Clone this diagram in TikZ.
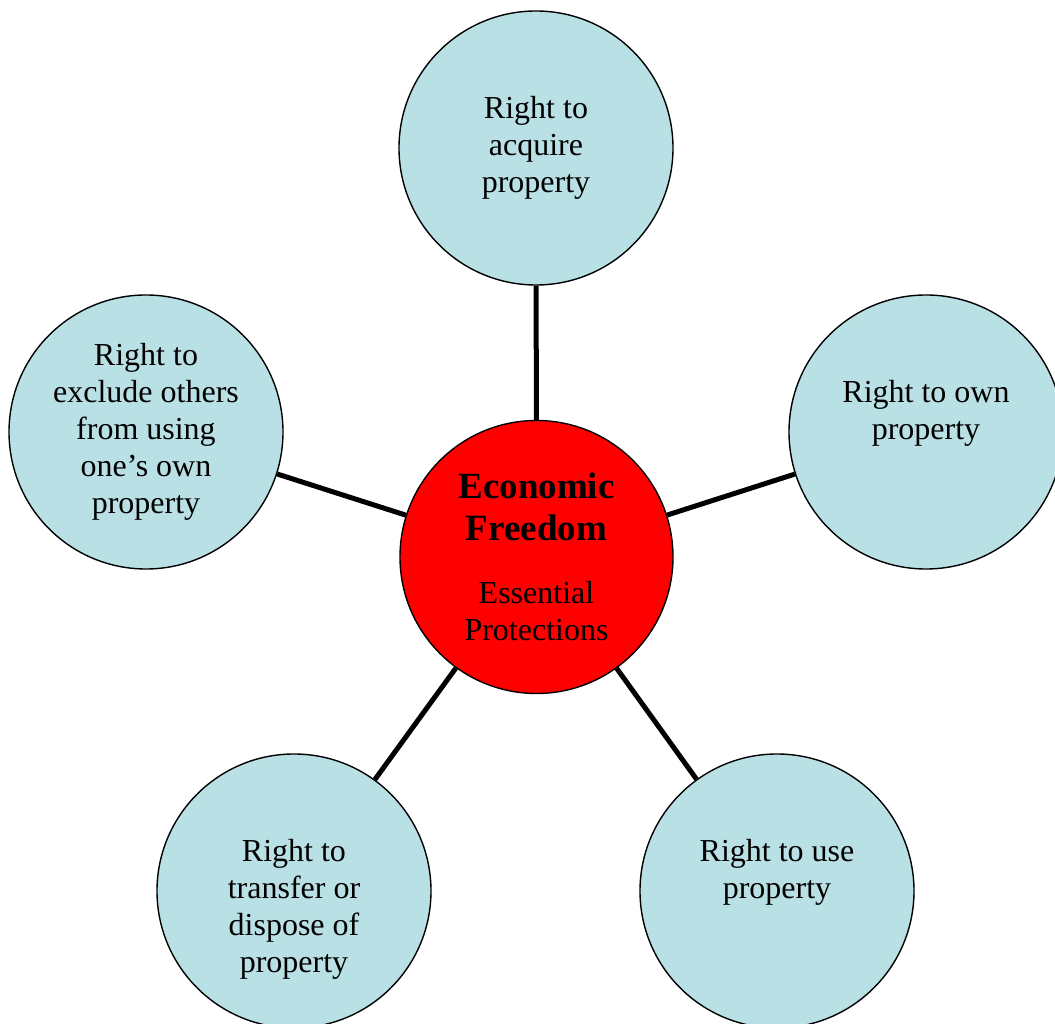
\documentclass[tikz,border=0pt]{standalone}
\usepackage{fontspec}
\setmainfont{Liberation Serif}
\usepackage{xcolor}
\usetikzlibrary{positioning}

\definecolor{bubblefill}{RGB}{185,224,228}
\newcommand{\subfont}{\fontsize{32}{37}\selectfont\mdseries}

\begin{document}
\begin{tikzpicture}[x=1pt,y=1pt,
  bubble/.style={circle, draw, line width=1.4pt, fill=bubblefill, minimum size=274pt,
    inner sep=0pt, align=center, font=\fontsize{32}{37}\selectfont},
  hubcircle/.style={circle, draw, line width=1.4pt, fill=red, minimum size=273pt,
    inner sep=0pt, align=center, font=\fontsize{37}{42}\selectfont\bfseries},
  link/.style={line width=5pt}]
\useasboundingbox (0,0) rectangle (1055,1023);

\node[hubcircle] (hub) at (536.5,466) {Economic\\Freedom\\[21pt]%
  {\subfont Essential}\\[-5pt]{\subfont Protections}};

\node[bubble] (acquire) at (536,875) {\strut Right to\\acquire\\property\strut};
\node[bubble] (own) at (926,591) {\strut Right to own\\property\\\strut};
\node[bubble] (exclude) at (146,591) {\strut Right to\\exclude others\\from using\\one’s own\\property\strut};
\node[bubble] (transfer) at (294,132) {\strut\\Right to\\transfer or\\dispose of\\property\strut};
\node[bubble] (use) at (777,132) {\strut Right to use\\property\\\strut};

\draw[link] (hub) -- (acquire);
\draw[link] (hub) -- (own);
\draw[link] (hub) -- (exclude);
\draw[link] (hub) -- (transfer);
\draw[link] (hub) -- (use);
\end{tikzpicture}
\end{document}
